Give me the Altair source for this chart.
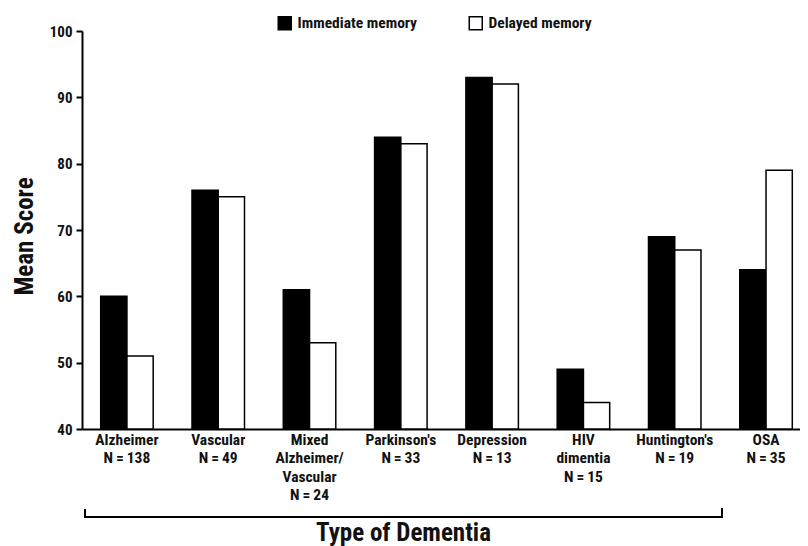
import altair as alt
import pandas as pd

# ---- data ----
tick_labels = [
    "Alzheimer\nN\u2009=\u2009138",
    "Vascular\nN\u2009=\u200949",
    "Mixed\nAlzheimer/\nVascular\nN\u2009=\u200924",
    "Parkinson's\nN\u2009=\u200933",
    "Depression\nN\u2009=\u200913",
    "HIV\ndimentia\nN\u2009=\u200915",
    "Huntington's\nN\u2009=\u200919",
    "OSA\nN\u2009=\u200935",
]
series_names = ["Immediate memory", "Delayed memory"]
immediate = [60, 76, 61, 84, 93, 49, 69, 64]
delayed = [51, 75, 53, 83, 92, 44, 67, 79]

rows = []
for lab, a, b in zip(tick_labels, immediate, delayed):
    rows.append({"group": lab, "series": series_names[0], "score": a})
    rows.append({"group": lab, "series": series_names[1], "score": b})
df = pd.DataFrame(rows)

FONT = "Roboto Condensed, Liberation Sans Narrow, Liberation Sans, Arial, sans-serif"
TXT = "#111"

W = 718
H = 398

bars = alt.Chart(df).mark_bar(stroke="black", strokeWidth=1.5).encode(
    x=alt.X(
        "group:N",
        sort=tick_labels,
        scale=alt.Scale(paddingInner=0.425, paddingOuter=0.1446, align=0.708),
        axis=alt.Axis(
            title="Type of Dementia",
            titleFontSize=25,
            titleFont=FONT,
            titleFontWeight="bold",
            titleColor=TXT,
            titleX=321,
            titleY=111,
            titleBaseline="alphabetic",
            titleAlign="center",
            labelExpr="split(datum.value, '\\n')",
            labelAngle=0,
            labelFont=FONT,
            labelFontSize=15.5,
            labelFontWeight="bold",
            labelColor=TXT,
            labelLineHeight=18.5,
            labelBaseline="top",
            labelPadding=3,
            labelOverlap=False,
            labelLimit=0,
            ticks=False,
            domainColor="black",
            domainWidth=2,
        ),
    ),
    xOffset=alt.XOffset("series:N", sort=series_names, scale=alt.Scale(paddingInner=0, paddingOuter=0)),
    y=alt.Y(
        "score:Q",
        scale=alt.Scale(domain=[40, 100], nice=False, zero=False),
        axis=alt.Axis(
            title="Mean Score",
            titleFont=FONT,
            titleFontSize=25,
            titleFontWeight="bold",
            titleColor=TXT,
            titleX=-58,
            titleY=205,
            titleAlign="center",
            titleBaseline="middle",
            values=[40, 50, 60, 70, 80, 90, 100],
            labelFont=FONT,
            labelFontSize=15,
            labelFontWeight="bold",
            labelColor=TXT,
            labelPadding=4,
            tickSize=6,
            tickWidth=2,
            tickColor="black",
            domainColor="black",
            domainWidth=2,
            grid=False,
        ),
    ),
    y2=alt.datum(40),
    color=alt.Color(
        "series:N",
        sort=series_names,
        scale=alt.Scale(domain=series_names, range=["black", "white"]),
        legend=alt.Legend(
            title=None,
            orient="none",
            direction="horizontal",
            legendX=195,
            legendY=-16,
            symbolType="square",
            symbolSize=169,
            symbolStrokeColor="black",
            symbolStrokeWidth=1.5,
            symbolOpacity=1,
            labelFont=FONT,
            labelFontSize=15.5,
            labelFontWeight="bold",
            labelColor=TXT,
            labelOffset=5,
            columnPadding=48,
            padding=0,
        ),
    ),
)

# decorative bracket under the category labels
bdf = pd.DataFrame({"k": [0]})
bracket_h = alt.Chart(bdf).mark_rule(color="black", strokeWidth=2).encode(
    x=alt.value(3), x2=alt.value(640), y=alt.value(486)
)
bracket_l = alt.Chart(bdf).mark_rule(color="black", strokeWidth=2).encode(
    x=alt.value(3), y=alt.value(478), y2=alt.value(487)
)
bracket_r = alt.Chart(bdf).mark_rule(color="black", strokeWidth=2).encode(
    x=alt.value(640), y=alt.value(477), y2=alt.value(487)
)

chart = alt.layer(bars, bracket_h, bracket_l, bracket_r).properties(
    width=W,
    height=H,
    autosize=alt.AutoSizeParams(type="none"),
    padding={"left": 74, "top": 23, "right": 0, "bottom": 117},
    background="white",
).configure_view(stroke=None)

chart.save("out.html", embed_options={"renderer": "svg", "actions": False})
